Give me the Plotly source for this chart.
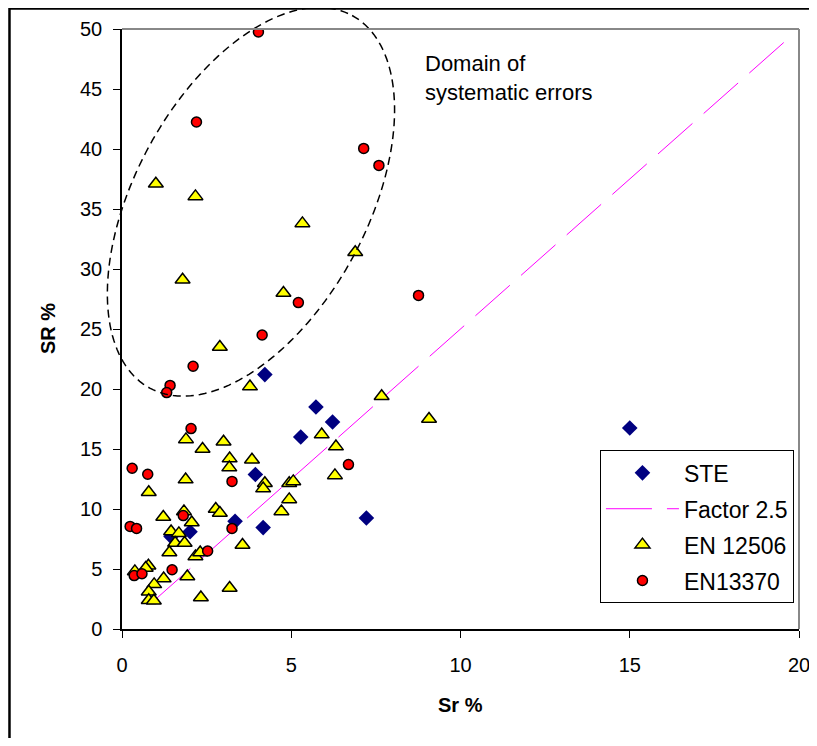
import numpy as np
import plotly.graph_objects as go

# ---------------- data ----------------
ste_x = [4.22, 5.73, 6.22, 5.28, 3.94, 3.34, 4.17, 2.01, 1.45, 7.22, 15.0]
ste_y = [21.2, 18.5, 17.25, 16.0, 12.87, 8.97, 8.45, 8.1, 7.7, 9.25, 16.75]

factor_x = [1.0, 19.7]
factor_y = [2.5, 49.25]

en12506_x = [1.00, 2.17, 5.33, 6.89, 1.79, 4.77, 2.89, 3.78, 7.67, 9.07,
             5.90, 1.89, 3.00, 2.38, 6.32, 3.18, 3.84, 3.17, 6.29, 1.88,
             4.22, 4.17, 4.94, 5.06, 0.79, 4.94, 4.71, 2.77, 2.89, 1.83,
             1.22, 2.06, 1.45, 1.68, 1.57, 1.85, 1.40, 2.17, 2.31, 3.56,
             0.38, 0.78, 0.70, 1.23, 1.93, 0.95, 0.79, 0.79, 0.94, 2.33, 3.18]
en12506_y = [37.1, 36.05, 33.8, 31.4, 29.1, 28.0, 23.5, 20.2, 19.4, 17.5,
             16.2, 15.8, 15.6, 15.0, 15.2, 14.2, 14.1, 13.45, 12.8, 12.45,
             12.15, 11.7, 12.15, 12.3, 11.4, 10.8, 9.8, 10.0, 9.67, 9.8,
             9.33, 8.88, 8.13, 7.97, 7.17, 7.17, 6.38, 6.05, 6.38, 7.0,
             4.8, 5.27, 5.08, 4.2, 4.38, 3.72, 3.1, 2.4, 2.35, 2.63, 3.42]

en13370_x = [4.03, 2.20, 7.14, 7.59, 5.21, 8.76, 4.14, 2.10, 1.42, 1.32,
             2.04, 0.30, 0.76, 6.69, 3.25, 1.81, 3.25, 0.24, 0.43, 2.53,
             1.48, 0.36, 0.59]
en13370_y = [49.75, 42.25, 40.05, 38.63, 27.2, 27.8, 24.5, 21.9, 20.3, 19.7,
             16.7, 13.4, 12.9, 13.7, 12.3, 9.45, 8.38, 8.55, 8.38, 6.5,
             4.94, 4.45, 4.6]

x_ticks = [0, 5, 10, 15, 20]
y_ticks = [0, 5, 10, 15, 20, 25, 30, 35, 40, 45, 50]

FONT = "Arial, Liberation Sans, sans-serif"

fig = go.Figure()

fig.add_trace(go.Scatter(
    x=ste_x, y=ste_y, mode="markers", name="STE", legendgroup="a",
    marker=dict(symbol="diamond", size=12, color="#000080",
                line=dict(color="#000080", width=0))))
fig.add_trace(go.Scatter(
    x=factor_x, y=factor_y, mode="lines", name="Factor 2.5", legendgroup="b",
    line=dict(color="#FF00FF", width=1, dash="46px,15px")))
fig.add_trace(go.Scatter(
    x=en12506_x, y=en12506_y, mode="markers", name="EN 12506", legendgroup="c",
    marker=dict(symbol="triangle-up", size=13, color="#FFFF00",
                line=dict(color="black", width=1.5))))
fig.add_trace(go.Scatter(
    x=en13370_x, y=en13370_y, mode="markers", name="EN13370", legendgroup="d",
    marker=dict(symbol="circle", size=10, color="#FF0000",
                line=dict(color="black", width=1.5))))

# ---------------- ellipse (domain of systematic errors) ----------------
XR, YR = 20.0, 50.0
PX_X, PX_Y = 33.85, 12.0          # pixels per data unit (style only)
cx, cy = 3.81, 35.6               # ellipse centre (data units)
a_px, b_px, phi = 212.0, 116.0, np.radians(28.5)
t = np.linspace(0, 2 * np.pi, 181)
dx = a_px * np.cos(t) * np.sin(phi) + b_px * np.sin(t) * np.cos(phi)
dy = -a_px * np.cos(t) * np.cos(phi) + b_px * np.sin(t) * np.sin(phi)
ex = (cx + dx / PX_X) / XR
ey = (cy - dy / PX_Y) / YR
path = "M " + " L ".join(f"{xx:.5f},{yy:.5f}" for xx, yy in zip(ex, ey)) + " Z"
fig.add_shape(type="path", path=path, xref="paper", yref="paper",
              line=dict(color="black", width=1.5, dash="8px,5px"))

# plot-area border (top & right in grey)
fig.add_shape(type="line", xref="paper", yref="paper", x0=0, x1=1, y0=1, y1=1,
              line=dict(color="#888888", width=2))
fig.add_shape(type="line", xref="paper", yref="paper", x0=1, x1=1, y0=0, y1=1,
              line=dict(color="#888888", width=2))

# outer chart frame
fig.add_shape(type="rect", xref="paper", yref="paper",
              x0=-0.1662, x1=1.05, y0=-0.23, y1=1.0343,
              line=dict(color="black", width=2.5))

fig.add_annotation(text="Domain of<br>systematic errors", xref="x", yref="y",
                   x=8.89, y=45.9, xanchor="left", yanchor="middle", align="left",
                   showarrow=False, font=dict(family=FONT, size=22, color="black"))
fig.add_annotation(text="<b>SR %</b>", xref="paper", yref="paper",
                   x=-0.1093, y=0.5, xanchor="center", yanchor="middle",
                   textangle=-90, showarrow=False,
                   font=dict(family=FONT, size=20, color="black"))
fig.add_annotation(text="<b>Sr %</b>", xref="paper", yref="paper",
                   x=0.5, y=-0.126, xanchor="center", yanchor="middle",
                   showarrow=False,
                   font=dict(family=FONT, size=20, color="black"))

fig.update_xaxes(range=[0, 20], tickvals=x_ticks, ticks="outside", ticklen=7,
                 tickcolor="black", showline=True, linecolor="black", linewidth=1.5,
                 showgrid=False, zeroline=False, ticklabelstandoff=10,
                 ticklabeloverflow="allow", automargin=False,
                 tickfont=dict(family=FONT, size=20, color="black"))
fig.update_yaxes(range=[0, 50], tickvals=y_ticks, ticks="outside", ticklen=7,
                 tickcolor="black", showline=True, linecolor="black", linewidth=1.5,
                 showgrid=False, zeroline=False, ticklabelstandoff=7,
                 automargin=False,
                 tickfont=dict(family=FONT, size=20, color="black"))

fig.update_layout(
    width=801, height=730,
    margin=dict(l=114, r=10, t=21, b=109),
    paper_bgcolor="white", plot_bgcolor="white",
    font=dict(family=FONT, color="black"),
    legend=dict(x=0.706, y=0.2977, xanchor="left", yanchor="top",
                bordercolor="black", borderwidth=1, bgcolor="white",
                font=dict(family=FONT, size=23, color="black"),
                tracegroupgap=3, itemwidth=73),
)

fig.write_html("out.html")
